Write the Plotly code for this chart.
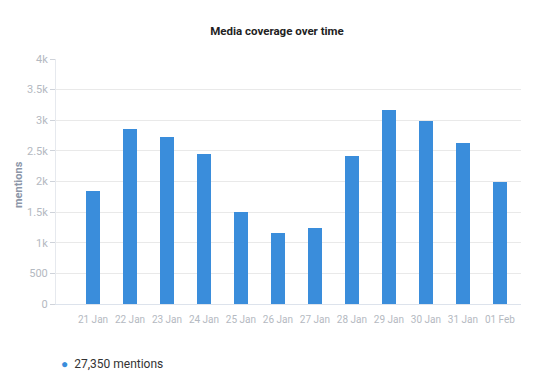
import plotly.graph_objects as go

categories = ["21 Jan", "22 Jan", "23 Jan", "24 Jan", "25 Jan", "26 Jan",
              "27 Jan", "28 Jan", "29 Jan", "30 Jan", "31 Jan", "01 Feb"]
mentions = [1850, 2860, 2720, 2450, 1500, 1160, 1240, 2420, 3160, 2990, 2630, 2000]
y_tickvals = [0, 500, 1000, 1500, 2000, 2500, 3000, 3500, 4000]
y_ticktext = ["0", "500", "1k", "1.5k", "2k", "2.5k", "3k", "3.5k", "4k"]
title_text = "Media coverage over time"
legend_text = "27,350 mentions"
y_title = "mentions"

bar_color = "#3a8ddb"
label_color = "#b4b9c1"

W, H = 554, 382
L, R, T, B = 56, 33, 59, 78
PW, PH = W - L - R, H - T - B

def px_x(x):
    return (x - L) / PW

def px_y(y):
    return (H - B - y) / PH

fig = go.Figure()
fig.add_trace(go.Bar(
    x=list(range(len(categories))), y=mentions,
    marker=dict(color=bar_color, line=dict(width=0)),
    width=0.38, showlegend=False, hoverinfo="y",
))

fig.update_layout(
    width=W, height=H,
    margin=dict(l=L, r=R, t=T, b=B, autoexpand=False),
    paper_bgcolor="white", plot_bgcolor="white",
    font=dict(family="Roboto, Arial, sans-serif", color=label_color, size=10),
    title=dict(text="<b>" + title_text + "</b>", x=0.5, xanchor="center",
               y=1 - 31 / H, yanchor="middle",
               font=dict(size=11.5, color="#222222", family="Roboto, Arial, sans-serif")),
    showlegend=False,
    bargap=0,
)

fig.update_xaxes(
    range=[-1.0, 11.57],
    tickmode="array", tickvals=list(range(len(categories))), ticktext=categories,
    showgrid=False, zeroline=False,
    showline=True, linecolor="#dde3ec", linewidth=1,
    ticks="outside", ticklen=6, tickcolor="rgba(0,0,0,0)",
    tickfont=dict(size=10, color=label_color),
    fixedrange=True, automargin=False,
)
fig.update_yaxes(
    range=[0, 4000],
    tickmode="array", tickvals=y_tickvals, ticktext=y_ticktext,
    showgrid=True, gridcolor="#e9e9e9", gridwidth=1,
    zeroline=False,
    showline=True, linecolor="#e6e9ee", linewidth=1,
    ticks="outside", ticklen=5, tickcolor="#cfd3da",
    tickfont=dict(size=11, color=label_color),
    fixedrange=True, automargin=False,
)

# y-axis title
fig.add_annotation(
    xref="paper", yref="paper", x=px_x(18), y=px_y(185),
    xanchor="center", yanchor="middle", showarrow=False, textangle=-90,
    text="<b>" + y_title + "</b>",
    font=dict(size=11, color="#8c96a8", family="Roboto, Arial, sans-serif"),
)

# legend
fig.add_annotation(
    xref="paper", yref="paper", x=px_x(59), y=px_y(364),
    xanchor="left", yanchor="middle", showarrow=False,
    text='<span style="color:%s;font-size:12px">●</span>&nbsp; %s' % (bar_color, legend_text),
    font=dict(size=12, color="#333333", family="Roboto, Arial, sans-serif"),
)

fig.write_html("out.html", config={"displayModeBar": False},
               include_plotlyjs=True, full_html=True,
               default_width="554px", default_height="382px")

# remove default body margin so the figure sits at the page origin
with open("out.html", "r", encoding="utf-8") as f:
    html = f.read()
html = html.replace("<head>", "<head><style>html,body{margin:0;padding:0;}</style>", 1)
with open("out.html", "w", encoding="utf-8") as f:
    f.write(html)
